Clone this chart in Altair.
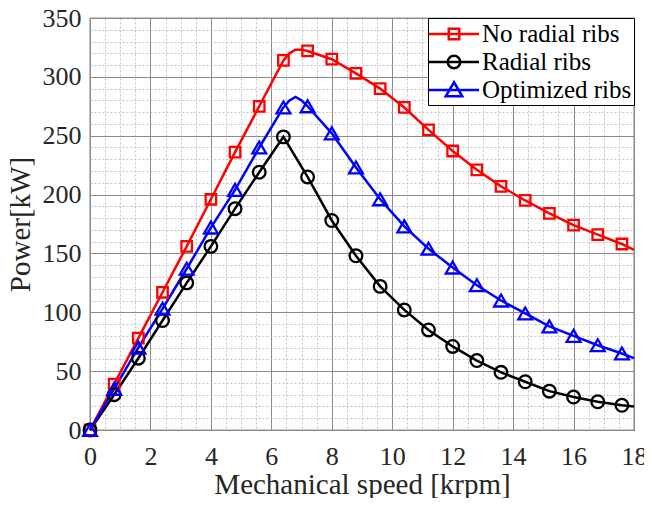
import altair as alt
import pandas as pd

# ---------------- data ----------------
series_names = ["No radial ribs", "Radial ribs", "Optimized ribs"]

speed = [0.0, 0.8, 1.6, 2.4, 3.2, 4.0, 4.8, 5.6, 6.4, 7.2, 8.0, 8.8,
         9.6, 10.4, 11.2, 12.0, 12.8, 13.6, 14.4, 15.2, 16.0, 16.8, 17.6]

no_ribs = [0, 39, 78, 117, 156, 196, 236, 275, 314, 322, 315, 303,
           290, 274, 255, 237, 221, 207, 195, 184, 174, 166, 158]
radial_ribs = [0, 30, 61, 93, 125, 156, 188, 219, 249, 215, 178, 148,
               122, 102, 85, 71, 59, 49, 41, 33, 28, 24, 21]
optimized_ribs = [0, 35, 70, 103, 137, 172, 204, 240, 274, 275, 252, 223,
                  196, 173, 154, 138, 123, 110, 99, 88, 80, 72, 65]

# extra points on the curves (between markers) near the peaks and at the end
peak_speed = [6.6, 6.8, 7.0]
no_ribs_peak = [320, 323, 323]
radial_ribs_peak = []
optimized_ribs_peak = [280, 283, 280]

end_speed = 18.0
end_values = [153, 20, 61]

x_major_ticks = [0, 2, 4, 6, 8, 10, 12, 14, 16, 18]
y_major_ticks = [0, 50, 100, 150, 200, 250, 300, 350]
x_minor_ticks = [i * 0.5 for i in range(37)]
y_minor_ticks = [i * 10 for i in range(36)]

# ---------------- styles ----------------
colors = ["#ff0000", "#000000", "#0000ff"]
plot_shapes = ["square", "circle", "triangle-up"]
plot_sizes = [110, 160, 190]
# legend symbols: a line with the marker on it (unit = 12.5 px)
legend_paths = [
    "M-1.2,0H2.8M0.38,-0.42H1.22V0.42H0.38Z",
    "M-1.2,0H2.8M1.3,0A0.5,0.5 0 1,1 0.3,0A0.5,0.5 0 1,1 1.3,0Z",
    "M-1.2,0H2.8M0.8,-0.62L1.46,0.5H0.14Z",
]
FONT = "Liberation Serif"
TXT = "#262626"

# ---------------- tables ----------------
marker_values = [no_ribs, radial_ribs, optimized_ribs]
peak_values = [no_ribs_peak, radial_ribs_peak, optimized_ribs_peak]

marker_frames, line_frames = [], []
for i, name in enumerate(series_names):
    m = pd.DataFrame({"speed": speed, "power": marker_values[i], "series": name})
    marker_frames.append(m)
    extra_x = peak_speed[: len(peak_values[i])] + [end_speed]
    extra_y = peak_values[i] + [end_values[i]]
    ln = pd.concat([m, pd.DataFrame({"speed": extra_x, "power": extra_y, "series": name})])
    line_frames.append(ln.sort_values("speed").reset_index(drop=True))

x_scale = alt.Scale(domain=[0, 18], nice=False, zero=False)
y_scale = alt.Scale(domain=[0, 350], nice=False, zero=False)

minor_x_axis = alt.Axis(orient="bottom", values=x_minor_ticks, grid=True, gridDash=[2, 2],
                        gridColor="#b5b5b5", gridWidth=0.8, labels=False, ticks=False,
                        domain=False, title=None)
minor_y_axis = alt.Axis(orient="left", values=y_minor_ticks, grid=True, gridDash=[2, 2],
                        gridColor="#b5b5b5", gridWidth=0.8, labels=False, ticks=False,
                        domain=False, title=None)
major_x_axis = alt.Axis(orient="bottom", values=x_major_ticks, grid=True, gridColor="#8a8a8a",
                        gridWidth=1, ticks=False, domain=False, labelFont=FONT, labelFontSize=26,
                        labelColor=TXT, labelPadding=13, labelFlush=False, labelOverlap=False,
                        title="Mechanical speed [krpm]", titleFont=FONT, titleFontSize=29,
                        titleFontWeight="normal", titleColor=TXT, titlePadding=1)
major_y_axis = alt.Axis(orient="left", values=y_major_ticks, grid=True, gridColor="#8a8a8a",
                        gridWidth=1, ticks=False, domain=False, labelFont=FONT, labelFontSize=26,
                        labelColor=TXT, labelPadding=9, labelOverlap=False,
                        title="Power[kW]", titleFont=FONT, titleFontSize=29,
                        titleFontWeight="normal", titleColor=TXT, titlePadding=7)

layers = []
for i, name in enumerate(series_names):
    if i == 0:
        xa, ya = minor_x_axis, minor_y_axis
    elif i == 1:
        xa, ya = major_x_axis, major_y_axis
    else:
        xa, ya = None, None
    line = alt.Chart(line_frames[i]).mark_line(color=colors[i], strokeWidth=2.5).encode(
        x=alt.X("speed:Q", scale=x_scale, axis=xa),
        y=alt.Y("power:Q", scale=y_scale, axis=ya),
    )
    layers.append(line)

for i, name in enumerate(series_names):
    pts = alt.Chart(marker_frames[i]).mark_point(
        shape=plot_shapes[i], color=colors[i], filled=False, size=plot_sizes[i],
        strokeWidth=2.3, opacity=1,
    ).encode(
        x=alt.X("speed:Q", scale=x_scale, axis=None),
        y=alt.Y("power:Q", scale=y_scale, axis=None),
    )
    layers.append(pts)

legend_df = pd.concat(marker_frames)
legend_props = dict(title=None, orient="top-right", offset=0, padding=2,
                    fillColor="white", strokeColor="#000000", labelFont=FONT,
                    labelFontSize=25, labelColor="#000000", labelOffset=24,
                    symbolSize=625, symbolStrokeWidth=2.5, rowPadding=1,
                    symbolFillColor="transparent", labelLimit=400)
legend_layer = alt.Chart(legend_df).mark_point(filled=False, opacity=1, strokeWidth=2.5).encode(
    x=alt.X("speed:Q", scale=x_scale, axis=None),
    y=alt.Y("power:Q", scale=y_scale, axis=None),
    color=alt.Color("series:N", scale=alt.Scale(domain=series_names, range=colors),
                    legend=alt.Legend(**legend_props)),
    shape=alt.Shape("series:N", scale=alt.Scale(domain=series_names, range=legend_paths),
                    legend=alt.Legend(**legend_props)),
).transform_filter("false")
layers.append(legend_layer)

chart = alt.layer(*layers).resolve_axis(x="independent", y="independent").properties(
    width=544, height=412,
    autosize=alt.AutoSizeParams(type="none"),
    padding={"left": 82, "top": 10, "right": 10, "bottom": 68},
    background="white",
).configure_view(stroke="#333333", strokeWidth=1.2)

chart.save("out.html", embed_options={"renderer": "svg", "actions": False})
